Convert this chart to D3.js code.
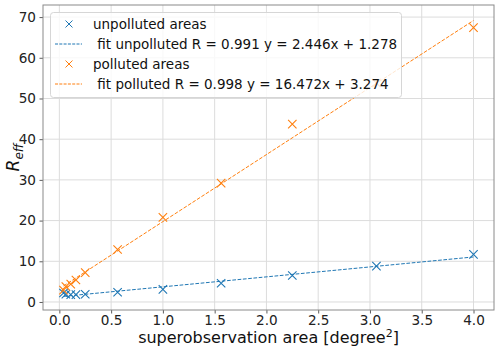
<!DOCTYPE html>
<html><head><meta charset="utf-8">
<script src="https://cdn.jsdelivr.net/npm/d3@7"></script>
<style>body{margin:0;background:#fff}svg{display:block;font-family:"DejaVu Sans",sans-serif}</style>
</head><body><svg id="c" width="500" height="354"></svg>
<script>
const areas = [0.04, 0.0625, 0.11, 0.16, 0.25, 0.5625, 1.0, 1.5625, 2.25, 3.0625, 4.0];
const unpolluted = [2.2, 1.9, 1.8, 1.8, 1.9, 2.4, 3.1, 4.6, 6.5, 8.8, 11.7];
const polluted = [2.9, 3.8, 4.4, 5.4, 7.2, 12.9, 20.8, 29.2, 43.7, 53.8, 67.4];
const fitUnpolluted = {slope: 2.446, intercept: 1.278, R: 0.991};
const fitPolluted = {slope: 16.472, intercept: 3.274, R: 0.998};
const xTicks = [0.0, 0.5, 1.0, 1.5, 2.0, 2.5, 3.0, 3.5, 4.0];
const yTicks = [0, 10, 20, 30, 40, 50, 60, 70];

const svg = d3.select("#c");
const L = 43, R = 494, T = 5, B = 310;
const x = d3.scaleLinear().domain([-0.158, 4.198]).range([L, R]);
const y = d3.scaleLinear().domain([-1.97, 72.97]).range([B, T]);

// grid
const g = svg.append("g");
g.selectAll(".gx").data(xTicks).join("line")
  .attr("x1", d => x(d)).attr("x2", d => x(d)).attr("y1", T).attr("y2", B)
  .attr("stroke", "#dcdcdc").attr("stroke-width", 1);
g.selectAll(".gy").data(yTicks).join("line")
  .attr("y1", d => y(d)).attr("y2", d => y(d)).attr("x1", L).attr("x2", R)
  .attr("stroke", "#dcdcdc").attr("stroke-width", 1);

// axes
const xAxis = d3.axisBottom(x).tickValues(xTicks).tickFormat(d3.format(".1f")).tickSize(3.5).tickPadding(2);
const yAxis = d3.axisLeft(y).tickValues(yTicks).tickFormat(d3.format("d")).tickSize(3.5).tickPadding(3.5);
const ax = svg.append("g").attr("transform", `translate(0,${B})`).call(xAxis);
const ay = svg.append("g").attr("transform", `translate(${L},0)`).call(yAxis);
[ax, ay].forEach(a => {
  a.select(".domain").remove();
  a.selectAll("line").attr("stroke", "#333").attr("stroke-width", 0.8);
  a.selectAll("text").attr("fill", "#222").style("font-size", "13.6px").style("font-family", "DejaVu Sans");
});

// fits
const line = d3.line().x(d => x(d[0])).y(d => y(d[1]));
function fitPts(f) { return [areas[0], areas[areas.length - 1]].map(a => [a, f.slope * a + f.intercept]); }
svg.append("path").attr("d", line(fitPts(fitUnpolluted))).attr("fill", "none")
  .attr("stroke", "#1f77b4").attr("stroke-width", 1).attr("stroke-dasharray", "3.7,1.6");
svg.append("path").attr("d", line(fitPts(fitPolluted))).attr("fill", "none")
  .attr("stroke", "#ff7f0e").attr("stroke-width", 1).attr("stroke-dasharray", "3.7,1.6");

// markers
function xMarker(sel, cx, cy, color) {
  const s = 4.2;
  sel.append("path").attr("d", `M${cx - s},${cy - s}L${cx + s},${cy + s}M${cx - s},${cy + s}L${cx + s},${cy - s}`)
    .attr("stroke", color).attr("stroke-width", 1.1).attr("fill", "none");
}
const mk = svg.append("g");
areas.forEach((a, i) => xMarker(mk, x(a), y(unpolluted[i]), "#1f77b4"));
areas.forEach((a, i) => xMarker(mk, x(a), y(polluted[i]), "#ff7f0e"));

// frame
svg.append("rect").attr("x", L).attr("y", T).attr("width", R - L).attr("height", B - T)
  .attr("fill", "none").attr("stroke", "#8a8a8a").attr("stroke-width", 1);

// legend
const lg = svg.append("g");
lg.append("rect").attr("x", 50.5).attr("y", 12.5).attr("width", 351).attr("height", 85).attr("rx", 3)
  .attr("fill", "rgba(255,255,255,0.8)").attr("stroke", "#d6d6d6").attr("stroke-width", 1);
const entries = [
  {type: "m", color: "#1f77b4", text: "unpolluted areas"},
  {type: "l", color: "#1f77b4", text: "\u00a0fit unpolluted R = " + fitUnpolluted.R.toFixed(3) + " y = " + fitUnpolluted.slope.toFixed(3) + "x + " + fitUnpolluted.intercept.toFixed(3)},
  {type: "m", color: "#ff7f0e", text: "polluted areas"},
  {type: "l", color: "#ff7f0e", text: "\u00a0fit polluted R = " + fitPolluted.R.toFixed(3) + " y = " + fitPolluted.slope.toFixed(3) + "x + " + fitPolluted.intercept.toFixed(3)}
];
entries.forEach((e, i) => {
  const cy = 24 + i * 20;
  if (e.type === "m") {
    const s = 3.5;
    lg.append("path").attr("d", `M${69 - s},${cy - s}L${69 + s},${cy + s}M${69 - s},${cy + s}L${69 + s},${cy - s}`)
      .attr("stroke", e.color).attr("stroke-width", 1).attr("fill", "none");
  } else {
    lg.append("line").attr("x1", 55).attr("x2", 82).attr("y1", cy).attr("y2", cy)
      .attr("stroke", e.color).attr("stroke-width", 1).attr("stroke-dasharray", "3,1.3");
  }
  lg.append("text").attr("x", 93).attr("y", cy + 5).text(e.text)
    .style("font-size", "13.5px").attr("fill", "#111");
});

// labels
svg.append("text").attr("x", (L + R) / 2).attr("y", 343).attr("text-anchor", "middle")
  .style("font-size", "16px").attr("fill", "#111")
  .html('superobservation area [degree<tspan dy="-6" style="font-size:11px">2</tspan><tspan dy="6">]</tspan>');
const yl = svg.append("text").attr("transform", `translate(19,${(T + B) / 2}) rotate(-90)`)
  .attr("text-anchor", "middle").style("font-size", "17px").attr("fill", "#111");
yl.append("tspan").style("font-style", "italic").text("R");
yl.append("tspan").attr("dy", 4).style("font-style", "italic").style("font-size", "12px").text("eff");
</script></body></html>
